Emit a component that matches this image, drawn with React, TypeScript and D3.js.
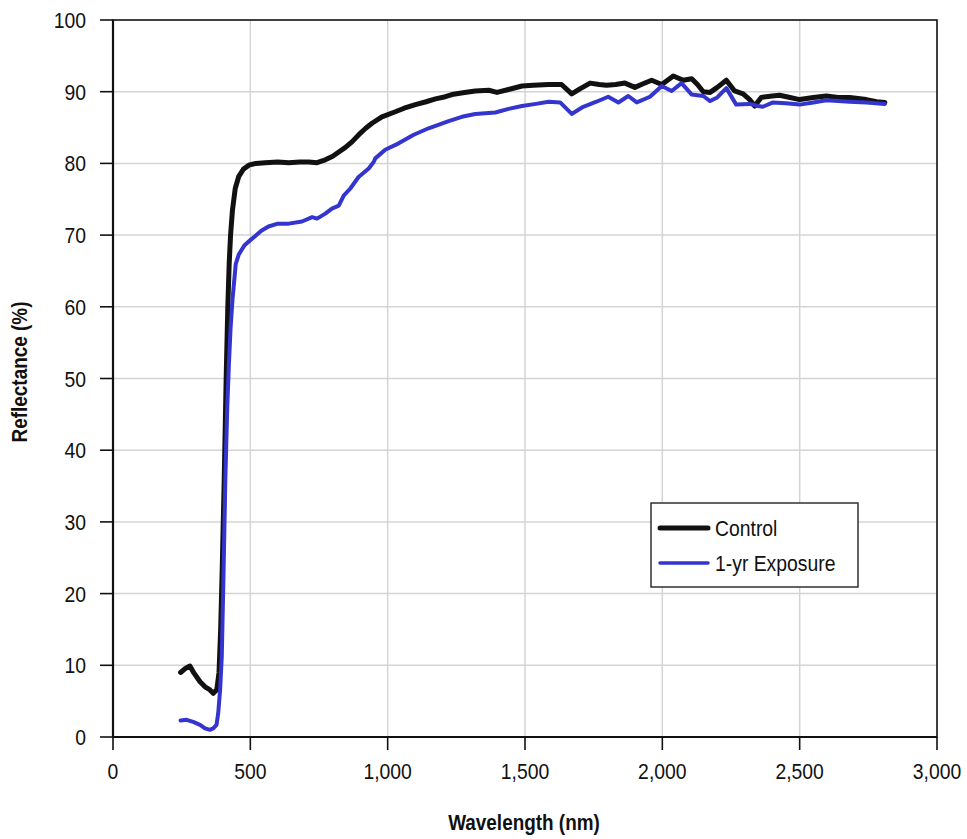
import React from "react";
import * as d3 from "d3";

// Spectral reflectance, control vs. 1-year exposure
const controlWavelength = [
  246, 265, 280, 295, 317, 335, 352, 365, 378, 386, 392, 398, 405, 412, 418, 423, 428, 435, 445, 458,
  475, 497, 520, 554, 600, 640, 680, 712, 743, 773, 800, 822, 845, 870, 900, 920, 943, 979, 1028, 1060,
  1101, 1140, 1174, 1210, 1234, 1280, 1319, 1368, 1398, 1440, 1489, 1530, 1586, 1633, 1670, 1700, 1737,
  1770, 1797, 1830, 1864, 1900, 1930, 1961, 1998, 2040, 2076, 2107, 2128, 2149, 2174, 2200, 2233, 2263,
  2294, 2318, 2336, 2360, 2400, 2427, 2465, 2500, 2550, 2597, 2640, 2682, 2743, 2780, 2810,
];
const controlReflectance = [
  9.0, 9.6, 9.9, 8.9, 7.7, 7.0, 6.6, 6.1, 6.6, 9, 15, 24, 36, 50, 60, 66, 70, 73.5, 76.5, 78.2,
  79.2, 79.8, 80.0, 80.1, 80.2, 80.1, 80.2, 80.2, 80.1, 80.5, 81.0, 81.6, 82.2, 83.0, 84.2, 84.9, 85.6, 86.5, 87.2, 87.7,
  88.2, 88.6, 89.0, 89.3, 89.6, 89.9, 90.1, 90.2, 89.9, 90.3, 90.8, 90.9, 91.0, 91.0, 89.7, 90.4, 91.2,
  91.0, 90.9, 91.0, 91.2, 90.6, 91.1, 91.6, 91.0, 92.2, 91.6, 91.8, 91.0, 90.0, 89.9, 90.6, 91.6, 90.1,
  89.7, 88.9, 88.0, 89.2, 89.4, 89.5, 89.2, 88.9, 89.2, 89.4, 89.2, 89.2, 88.9, 88.6, 88.5,
];

const exposureWavelength = [
  246, 268, 292, 317, 335, 353, 365, 377, 383, 390, 396, 402, 409, 416, 422, 428, 435, 441, 447, 458,
  479, 500, 516, 540, 566, 600, 640, 688, 725, 743, 773, 797, 822, 840, 864, 894, 931, 949, 955, 991,
  1040, 1095, 1149, 1222, 1270, 1319, 1392, 1440, 1489, 1540, 1586, 1628, 1670, 1712, 1760, 1803, 1840,
  1876, 1907, 1955, 1998, 2034, 2070, 2107, 2149, 2174, 2200, 2233, 2269, 2318, 2348, 2366, 2403, 2450,
  2500, 2550, 2597, 2640, 2682, 2743, 2810,
];
const exposureReflectance = [
  2.3, 2.4, 2.1, 1.7, 1.2, 1.0, 1.2, 1.7, 3.3, 6.6, 11.2, 22, 36, 46, 52, 57, 61, 63.5, 66, 67.3,
  68.6, 69.3, 69.8, 70.6, 71.2, 71.6, 71.6, 71.9, 72.5, 72.3, 73.0, 73.7, 74.1, 75.5, 76.5, 78.1, 79.3, 80.2, 80.7, 81.9,
  82.8, 84.0, 84.9, 85.9, 86.5, 86.9, 87.1, 87.6, 88.0, 88.3, 88.6, 88.5, 86.9, 87.9, 88.6, 89.3, 88.5,
  89.4, 88.5, 89.3, 90.8, 90.1, 91.2, 89.6, 89.4, 88.7, 89.2, 90.5, 88.2, 88.3, 88.0, 87.9, 88.5, 88.4,
  88.2, 88.5, 88.8, 88.7, 88.6, 88.5, 88.3,
];

const xTicks = [0, 500, 1000, 1500, 2000, 2500, 3000];
const yTicks = [0, 10, 20, 30, 40, 50, 60, 70, 80, 90, 100];
const seriesNames = ["Control", "1-yr Exposure"];

const W = 967;
const H = 839;
const plot = { left: 113, right: 937, top: 20, bottom: 737 };
const FONT = "'Liberation Sans', Arial, Helvetica, sans-serif";
const SQ = 0.88;

const BLACK = "#111111";
const BLUE = "#3434cf";

function Label({ x, y, anchor = "start", size = 22, weight = "normal", rotate = 0, children }: any) {
  return (
    <text
      transform={`translate(${x},${y}) rotate(${rotate}) scale(${SQ},1)`}
      textAnchor={anchor}
      fontFamily={FONT}
      fontSize={size}
      fontWeight={weight}
      fill="#111"
    >
      {children}
    </text>
  );
}

export default function App() {
  const x = d3.scaleLinear().domain([0, 3000]).range([plot.left, plot.right]);
  const y = d3.scaleLinear().domain([0, 100]).range([plot.bottom, plot.top]);
  const fmt = d3.format(",");

  const line = d3
    .line<[number, number]>()
    .x((d) => x(d[0]))
    .y((d) => y(d[1]))
    .curve(d3.curveLinear);

  const controlPts = controlWavelength.map((w, i) => [w, controlReflectance[i]] as [number, number]);
  const exposurePts = exposureWavelength.map((w, i) => [w, exposureReflectance[i]] as [number, number]);

  const legend = { x: 651, y: 503, w: 207, h: 84 };

  return (
    <svg
      width={W}
      height={H}
      style={{ position: "fixed", left: 0, top: 0, background: "#fff" }}
    >
      <rect x={0} y={0} width={W} height={H} fill="#fff" />
      {/* grid */}
      {xTicks.slice(1, -1).map((t) => (
        <line key={"gx" + t} x1={x(t)} x2={x(t)} y1={plot.top} y2={plot.bottom} stroke="#d4d4d4" strokeWidth={1.5} />
      ))}
      {yTicks.slice(1, -1).map((t) => (
        <line key={"gy" + t} x1={plot.left} x2={plot.right} y1={y(t)} y2={y(t)} stroke="#d4d4d4" strokeWidth={1.5} />
      ))}

      {/* series: thick black control underneath, blue exposure on top */}
      <path d={line(controlPts) || ""} fill="none" stroke={BLACK} strokeWidth={5} strokeLinejoin="round" strokeLinecap="round" />
      <path d={line(exposurePts) || ""} fill="none" stroke={BLUE} strokeWidth={4} strokeLinejoin="round" strokeLinecap="round" />

      {/* frame */}
      <rect x={plot.left} y={plot.top} width={plot.right - plot.left} height={plot.bottom - plot.top} fill="none" stroke="#111" strokeWidth={1.6} />
      <line x1={plot.left} x2={plot.left} y1={plot.top} y2={plot.bottom} stroke="#111" strokeWidth={2.2} />
      <line x1={plot.left} x2={plot.right} y1={plot.bottom} y2={plot.bottom} stroke="#111" strokeWidth={2.2} />

      {/* y axis */}
      {yTicks.map((t) => (
        <g key={"yt" + t}>
          <line x1={plot.left - 13} x2={plot.left} y1={y(t)} y2={y(t)} stroke="#111" strokeWidth={1.6} />
          <Label x={plot.left - 27} y={y(t) + 8} anchor="end">
            {fmt(t)}
          </Label>
        </g>
      ))}
      {/* x axis */}
      {xTicks.map((t) => (
        <g key={"xt" + t}>
          <line x1={x(t)} x2={x(t)} y1={plot.bottom} y2={plot.bottom + 13} stroke="#111" strokeWidth={1.6} />
          <Label x={x(t)} y={779} anchor="middle">
            {fmt(t)}
          </Label>
        </g>
      ))}

      <Label x={524} y={830} anchor="middle" weight="bold" size={21.5}>
        Wavelength (nm)
      </Label>
      <Label x={27} y={372} anchor="middle" weight="bold" rotate={-90} size={21.5}>
        Reflectance (%)
      </Label>

      {/* legend */}
      <rect x={legend.x} y={legend.y} width={legend.w} height={legend.h} fill="#fff" stroke="#222" strokeWidth={1.4} />
      <line x1={660} x2={708} y1={528} y2={528} stroke={BLACK} strokeWidth={5} strokeLinecap="round" />
      <line x1={660} x2={708} y1={563} y2={563} stroke={BLUE} strokeWidth={3.5} strokeLinecap="round" />
      <Label x={715} y={536}>{seriesNames[0]}</Label>
      <Label x={715} y={571}>{seriesNames[1]}</Label>
    </svg>
  );
}
